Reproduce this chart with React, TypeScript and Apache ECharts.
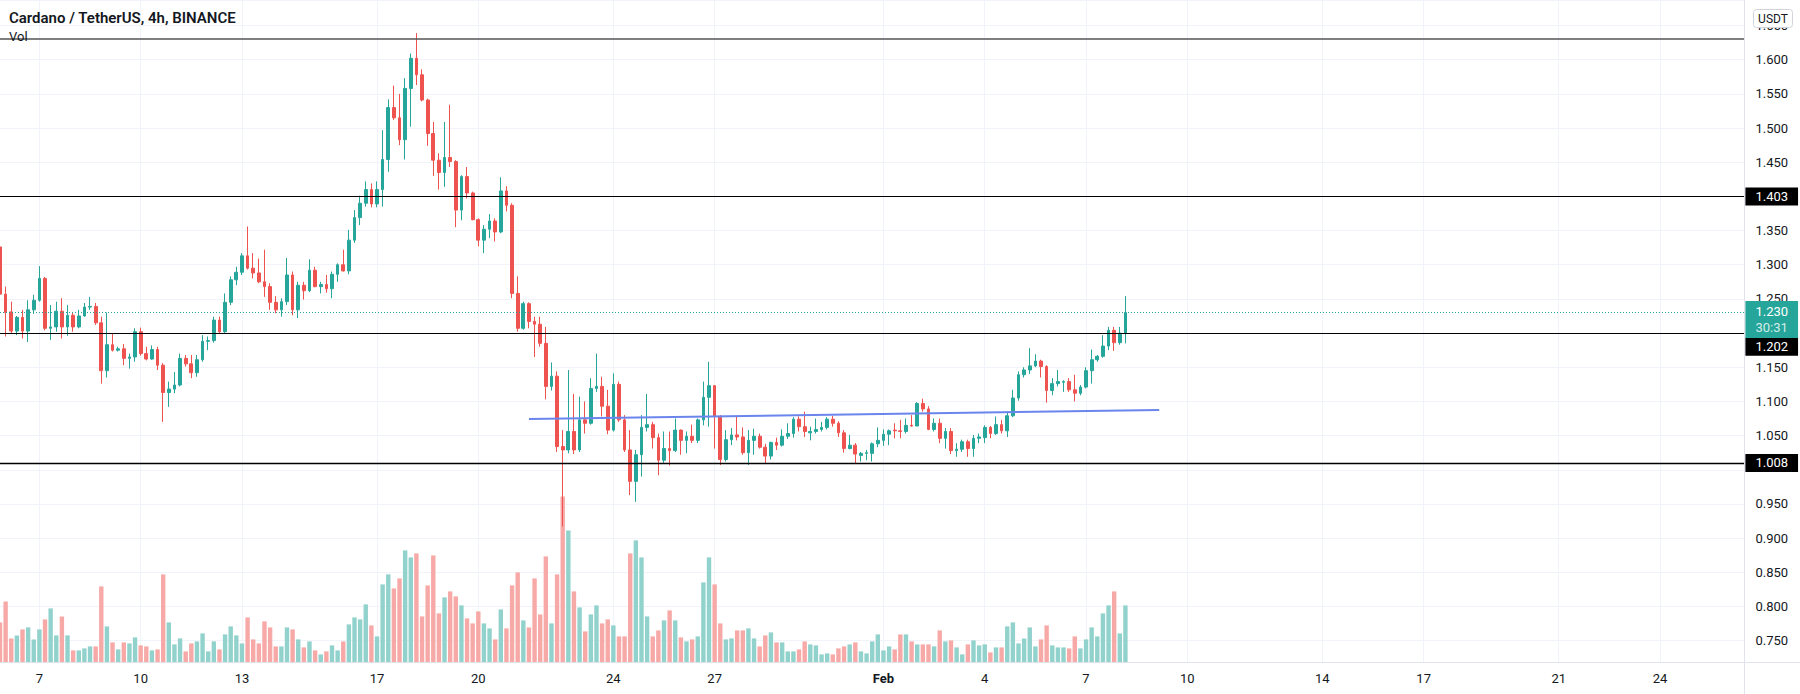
import React, { useEffect, useRef } from 'react';
import * as echarts from 'echarts';

// ---------- data ----------
const TITLE = 'Cardano / TetherUS, 4h, BINANCE';
const PANE_LABEL = 'Vol';
const CURRENCY = 'USDT';

// first 4h slot on the category axis (Jan 5 2022 20:00 UTC), number of slots incl. empty future
const START_UTC = Date.UTC(2022, 0, 5, 20);
const SLOT_COUNT = 311;
const STEP_MS = 4 * 3600 * 1000;

const TICK_DATES = [
  '2022-01-07', '2022-01-10', '2022-01-13', '2022-01-17', '2022-01-20', '2022-01-24', '2022-01-27',
  '2022-02-01', '2022-02-04', '2022-02-07', '2022-02-10', '2022-02-14', '2022-02-17', '2022-02-21', '2022-02-24',
];
const TICK_LABELS = ['7', '10', '13', '17', '20', '24', '27', 'Feb', '4', '7', '10', '14', '17', '21', '24'];

const PRICE_MIN = 0.7181;
const PRICE_MAX = 1.6874;

const LEVEL_TOP = 1.627;
const LEVELS = [1.403, 1.202, 1.008];
const LAST_PRICE = 1.23;
const COUNTDOWN = '30:31';
// label anchors of the price-scale boxes that TradingView pushes down to avoid overlap
const LAST_BOX_ANCHOR = 1.219;
const LEVEL_1202_BOX_ANCHOR = 1.18;

const TREND_START: [string, number] = ['2022-01-21 12:00', 1.0742];
const TREND_END: [string, number] = ['2022-02-09 04:00', 1.0874];

// candles [open, high, low, close], one per 4h slot from Jan 5 20:00
const CANDLES_JAN05_10: number[][] = [
  [1.326, 1.33, 1.245, 1.257],
  [1.257, 1.268, 1.195, 1.23], [1.231, 1.246, 1.2, 1.203], [1.203, 1.225, 1.197, 1.223],
  [1.223, 1.234, 1.192, 1.203], [1.203, 1.248, 1.187, 1.234], [1.234, 1.256, 1.228, 1.248],
  [1.248, 1.298, 1.246, 1.28], [1.28, 1.282, 1.204, 1.207], [1.207, 1.241, 1.19, 1.209],
  [1.209, 1.246, 1.202, 1.232], [1.232, 1.251, 1.192, 1.209], [1.209, 1.241, 1.196, 1.226],
  [1.226, 1.231, 1.202, 1.209], [1.209, 1.234, 1.207, 1.225], [1.225, 1.244, 1.224, 1.238],
  [1.238, 1.253, 1.234, 1.239], [1.239, 1.244, 1.212, 1.215], [1.215, 1.224, 1.126, 1.145],
  [1.145, 1.23, 1.135, 1.183], [1.183, 1.199, 1.173, 1.175], [1.175, 1.18, 1.173, 1.177],
  [1.177, 1.184, 1.153, 1.163], [1.163, 1.17, 1.148, 1.165], [1.165, 1.207, 1.158, 1.202],
];
const CANDLES_JAN10_14: number[][] = [
  [1.202, 1.208, 1.167, 1.17], [1.17, 1.18, 1.16, 1.162], [1.162, 1.182, 1.161, 1.176],
  [1.176, 1.18, 1.146, 1.153], [1.153, 1.156, 1.07, 1.113], [1.113, 1.129, 1.092, 1.118],
  [1.118, 1.143, 1.112, 1.124], [1.124, 1.17, 1.122, 1.163], [1.163, 1.168, 1.151, 1.155],
  [1.155, 1.168, 1.134, 1.142], [1.142, 1.168, 1.136, 1.161], [1.161, 1.197, 1.158, 1.188],
  [1.188, 1.195, 1.175, 1.189], [1.189, 1.224, 1.186, 1.219], [1.219, 1.224, 1.2, 1.202],
  [1.202, 1.258, 1.2, 1.245], [1.245, 1.283, 1.241, 1.278], [1.278, 1.297, 1.27, 1.289],
  [1.289, 1.317, 1.285, 1.313], [1.313, 1.356, 1.293, 1.295], [1.295, 1.317, 1.28, 1.288],
  [1.288, 1.309, 1.273, 1.275], [1.275, 1.322, 1.253, 1.268], [1.268, 1.273, 1.234, 1.245],
];
const CANDLES_JAN14_18: number[][] = [
  [1.245, 1.254, 1.229, 1.234], [1.234, 1.251, 1.224, 1.246], [1.246, 1.31, 1.241, 1.285],
  [1.285, 1.29, 1.226, 1.234], [1.234, 1.275, 1.222, 1.27], [1.27, 1.275, 1.249, 1.262],
  [1.262, 1.308, 1.26, 1.292], [1.292, 1.297, 1.267, 1.268], [1.268, 1.275, 1.258, 1.271],
  [1.271, 1.285, 1.259, 1.265], [1.265, 1.29, 1.251, 1.286], [1.286, 1.302, 1.275, 1.3],
  [1.3, 1.322, 1.29, 1.291], [1.291, 1.351, 1.286, 1.336], [1.336, 1.38, 1.332, 1.369],
  [1.369, 1.401, 1.358, 1.39], [1.39, 1.422, 1.385, 1.41], [1.41, 1.419, 1.384, 1.389],
  [1.389, 1.422, 1.384, 1.41], [1.41, 1.497, 1.385, 1.454], [1.454, 1.542, 1.436, 1.53],
  [1.53, 1.562, 1.512, 1.515], [1.515, 1.55, 1.475, 1.483], [1.483, 1.573, 1.454, 1.558],
];
const CANDLES_JAN18_22: number[][] = [
  [1.558, 1.609, 1.502, 1.602], [1.602, 1.639, 1.563, 1.578], [1.578, 1.586, 1.539, 1.541],
  [1.541, 1.543, 1.474, 1.492], [1.492, 1.509, 1.43, 1.453], [1.453, 1.463, 1.41, 1.435],
  [1.435, 1.509, 1.414, 1.457], [1.457, 1.534, 1.443, 1.451], [1.451, 1.453, 1.355, 1.38],
  [1.38, 1.431, 1.365, 1.429], [1.429, 1.443, 1.397, 1.405], [1.405, 1.407, 1.365, 1.366],
  [1.366, 1.368, 1.327, 1.336], [1.336, 1.358, 1.317, 1.352], [1.352, 1.374, 1.339, 1.364],
  [1.364, 1.368, 1.334, 1.348], [1.348, 1.428, 1.346, 1.408], [1.408, 1.415, 1.378, 1.387],
  [1.387, 1.39, 1.251, 1.258], [1.258, 1.283, 1.202, 1.207], [1.207, 1.246, 1.205, 1.243],
  [1.243, 1.245, 1.207, 1.217], [1.217, 1.224, 1.165, 1.213], [1.213, 1.224, 1.18, 1.185],
];
const CANDLES_JAN22_26: number[][] = [
  [1.185, 1.209, 1.103, 1.122], [1.122, 1.157, 1.116, 1.137], [1.137, 1.144, 1.026, 1.034],
  [1.034, 1.058, 0.917, 1.029], [1.029, 1.146, 1.024, 1.056], [1.056, 1.111, 1.023, 1.029],
  [1.029, 1.107, 1.026, 1.073], [1.073, 1.1, 1.053, 1.068], [1.068, 1.134, 1.066, 1.119],
  [1.119, 1.17, 1.114, 1.122], [1.122, 1.136, 1.078, 1.093], [1.093, 1.117, 1.052, 1.058],
  [1.058, 1.141, 1.056, 1.125], [1.125, 1.129, 1.07, 1.073], [1.073, 1.08, 1.026, 1.029],
  [1.029, 1.058, 0.963, 0.983], [0.983, 1.029, 0.953, 1.022], [1.022, 1.08, 0.99, 1.062],
  [1.062, 1.111, 1.056, 1.066], [1.066, 1.07, 1.031, 1.047], [1.047, 1.053, 0.992, 1.014],
  [1.014, 1.056, 1.009, 1.031], [1.031, 1.056, 1.006, 1.028], [1.028, 1.075, 1.026, 1.058],
];
const CANDLES_JAN26_30: number[][] = [
  [1.058, 1.059, 1.022, 1.043], [1.043, 1.056, 1.024, 1.049], [1.049, 1.066, 1.039, 1.043],
  [1.043, 1.075, 1.039, 1.073], [1.073, 1.129, 1.065, 1.106], [1.106, 1.158, 1.063, 1.123],
  [1.123, 1.124, 1.031, 1.078], [1.078, 1.08, 1.007, 1.015], [1.015, 1.058, 1.012, 1.044],
  [1.044, 1.061, 1.036, 1.051], [1.051, 1.078, 1.043, 1.048], [1.048, 1.062, 1.022, 1.025],
  [1.025, 1.058, 1.007, 1.043], [1.043, 1.06, 1.022, 1.049], [1.049, 1.053, 1.031, 1.033],
  [1.033, 1.038, 1.01, 1.02], [1.02, 1.041, 1.015, 1.04], [1.04, 1.047, 1.029, 1.036],
  [1.036, 1.059, 1.034, 1.049], [1.049, 1.068, 1.045, 1.053], [1.053, 1.077, 1.047, 1.074],
  [1.074, 1.078, 1.056, 1.063], [1.063, 1.085, 1.048, 1.056], [1.054, 1.063, 1.043, 1.056],
];
const CANDLES_JAN30_FEB03: number[][] = [
  [1.056, 1.075, 1.053, 1.059], [1.059, 1.07, 1.056, 1.062], [1.062, 1.077, 1.059, 1.074],
  [1.074, 1.079, 1.063, 1.068], [1.068, 1.071, 1.048, 1.054], [1.054, 1.058, 1.025, 1.031],
  [1.031, 1.051, 1.03, 1.036], [1.036, 1.039, 1.009, 1.023], [1.021, 1.026, 1.012, 1.024],
  [1.024, 1.029, 1.014, 1.025], [1.024, 1.04, 1.012, 1.038], [1.038, 1.062, 1.033, 1.043],
  [1.043, 1.059, 1.035, 1.052], [1.052, 1.059, 1.036, 1.057], [1.058, 1.068, 1.046, 1.057],
  [1.057, 1.073, 1.046, 1.056], [1.056, 1.075, 1.053, 1.065], [1.065, 1.08, 1.063, 1.064],
  [1.064, 1.099, 1.064, 1.097], [1.097, 1.104, 1.085, 1.089], [1.089, 1.093, 1.058, 1.059],
  [1.059, 1.075, 1.056, 1.068], [1.068, 1.075, 1.039, 1.046], [1.046, 1.061, 1.031, 1.056],
];
const CANDLES_FEB03_08: number[][] = [
  [1.056, 1.061, 1.023, 1.028], [1.028, 1.039, 1.019, 1.03], [1.03, 1.044, 1.026, 1.041],
  [1.041, 1.044, 1.019, 1.031], [1.031, 1.051, 1.019, 1.046], [1.046, 1.053, 1.039, 1.048],
  [1.047, 1.065, 1.039, 1.062], [1.062, 1.064, 1.046, 1.053], [1.053, 1.078, 1.051, 1.066],
  [1.066, 1.073, 1.053, 1.057], [1.057, 1.085, 1.048, 1.079], [1.079, 1.117, 1.077, 1.105],
  [1.105, 1.144, 1.101, 1.139], [1.139, 1.15, 1.135, 1.146], [1.146, 1.178, 1.14, 1.152],
  [1.152, 1.169, 1.15, 1.159], [1.159, 1.161, 1.135, 1.151], [1.151, 1.153, 1.098, 1.116],
  [1.116, 1.134, 1.109, 1.126], [1.126, 1.146, 1.122, 1.129], [1.128, 1.131, 1.114, 1.129],
  [1.129, 1.134, 1.114, 1.117], [1.117, 1.139, 1.1, 1.112], [1.112, 1.124, 1.109, 1.121],
  [1.121, 1.15, 1.119, 1.145], [1.145, 1.176, 1.126, 1.161], [1.161, 1.168, 1.158, 1.166],
  [1.166, 1.197, 1.164, 1.181], [1.181, 1.209, 1.175, 1.204], [1.204, 1.209, 1.174, 1.186],
  [1.186, 1.209, 1.183, 1.2], [1.2, 1.254, 1.185, 1.23],
];

// volume per candle (millions ADA)
const VOLUME_JAN05_10 = [40, 61, 24, 27, 33, 35, 23, 33, 43, 54, 27, 46, 27, 12, 12, 14, 16, 16, 76, 36, 20, 13, 20, 19, 25];
const VOLUME_JAN10_14 = [17, 16, 12, 13, 88, 40, 18, 24, 11, 19, 21, 29, 11, 21, 13, 28, 36, 27, 19, 45, 23, 19, 41, 35];
const VOLUME_JAN14_18 = [16, 16, 35, 33, 23, 15, 21, 12, 8, 11, 17, 12, 21, 38, 45, 43, 58, 37, 26, 78, 88, 74, 84, 112];
const VOLUME_JAN18_22 = [105, 109, 46, 77, 107, 49, 65, 71, 66, 57, 44, 39, 51, 39, 34, 23, 53, 34, 77, 90, 42, 35, 84, 48];
const VOLUME_JAN22_26 = [106, 39, 88, 166, 132, 71, 55, 31, 48, 57, 39, 43, 37, 26, 26, 109, 122, 105, 46, 26, 32, 42, 52, 42];
const VOLUME_JAN26_30 = [25, 21, 23, 26, 80, 105, 78, 39, 23, 24, 32, 32, 34, 24, 16, 27, 30, 20, 20, 11, 11, 13, 21, 18];
const VOLUME_JAN30_FEB03 = [17, 8, 9, 8, 14, 16, 18, 20, 11, 9, 21, 28, 12, 16, 13, 28, 28, 21, 18, 18, 18, 16, 32, 21];
const VOLUME_FEB03_08 = [22, 15, 8, 18, 22, 17, 18, 10, 15, 15, 36, 40, 19, 24, 35, 16, 23, 37, 17, 15, 15, 14, 26, 14, 23, 35, 26, 49, 57, 71, 29, 57];

// ---------- styling ----------
const FONT = 'Roboto, "Open Sans", "DejaVu Sans", sans-serif';
const TEXT = '#131722';
const UP = '#26a69a';
const DOWN = '#ef5350';
const VOL_UP = '#92d2cc';
const VOL_DOWN = '#f7a9a7';
const GRID_LINE = '#f0f3fa';
const BORDER = '#e0e3eb';
const INVISIBLE = 'rgba(0,0,0,0)';

const pad = (n: number) => (n < 10 ? '0' + n : '' + n);
const slotName = (t: number) => {
  const d = new Date(t);
  return `${d.getUTCFullYear()}-${pad(d.getUTCMonth() + 1)}-${pad(d.getUTCDate())} ${pad(d.getUTCHours())}:00`;
};

export default function App() {
  const ref = useRef<HTMLDivElement>(null);

  useEffect(() => {
    document.body.style.margin = '0';
    if (!ref.current) return;
    const chart = echarts.init(ref.current, undefined, { renderer: 'svg' });

    const candles = [
      ...CANDLES_JAN05_10, ...CANDLES_JAN10_14, ...CANDLES_JAN14_18, ...CANDLES_JAN18_22,
      ...CANDLES_JAN22_26, ...CANDLES_JAN26_30, ...CANDLES_JAN30_FEB03, ...CANDLES_FEB03_08,
    ];
    const volume = [
      ...VOLUME_JAN05_10, ...VOLUME_JAN10_14, ...VOLUME_JAN14_18, ...VOLUME_JAN18_22,
      ...VOLUME_JAN22_26, ...VOLUME_JAN26_30, ...VOLUME_JAN30_FEB03, ...VOLUME_FEB03_08,
    ];

    const categories: string[] = [];
    for (let k = 0; k < SLOT_COUNT; k++) categories.push(slotName(START_UTC + k * STEP_MS));
    const tickMap = new Map<string, string>();
    TICK_DATES.forEach((d, k) => tickMap.set(d + ' 00:00', TICK_LABELS[k]));

    const candleData = candles.map(([o, h, l, c]) => [o, c, l, h]);
    const volData = volume.map((v, k) => ({
      value: v,
      itemStyle: { color: candles[k] && candles[k][3] >= candles[k][0] ? VOL_UP : VOL_DOWN },
    }));

    const boxLabel = (text: string) => ({
      show: true,
      position: 'end',
      distance: 1,
      formatter: text,
      backgroundColor: '#000',
      color: '#fff',
      fontSize: 13,
      fontFamily: FONT,
      padding: [3, 10, 2, 10],
    });

    // price-scale labels that sit under a level box are hidden by the box
    const coveredByBox = (v: number) => LEVELS.some((l) => Math.abs(l - v) < 0.01);

    const option: any = {
      animation: false,
      backgroundColor: '#fff',
      textStyle: { fontFamily: FONT },
      title: [
        {
          text: TITLE, left: 9, top: 10, padding: 0,
          textStyle: { fontSize: 15, fontWeight: 600, color: TEXT, fontFamily: FONT },
        },
        {
          text: PANE_LABEL, left: 9, top: 30, padding: 0,
          textStyle: { fontSize: 13, fontWeight: 'normal', color: TEXT, fontFamily: FONT },
        },
      ],
      grid: { left: -1.5, right: 55.6, top: 0, bottom: 31.6, containLabel: false },
      xAxis: {
        type: 'category',
        data: categories,
        boundaryGap: false,
        axisLine: { show: false },
        axisTick: { show: false },
        axisLabel: {
          interval: (_i: number, v: string) => tickMap.has(v),
          formatter: (v: string) => {
            const t = tickMap.get(v) || '';
            return t === 'Feb' ? '{b|Feb}' : t;
          },
          rich: { b: { fontWeight: 'bold', fontSize: 13, color: TEXT, fontFamily: FONT } },
          color: TEXT,
          fontSize: 13,
          fontFamily: FONT,
          margin: 10,
        },
        splitLine: {
          show: true,
          interval: (_i: number, v: string) => tickMap.has(v),
          lineStyle: { color: GRID_LINE, width: 1 },
        },
      },
      yAxis: [
        {
          type: 'value',
          position: 'right',
          min: PRICE_MIN,
          max: PRICE_MAX,
          splitNumber: 20,
          axisLine: { show: false },
          axisTick: { show: false },
          axisLabel: {
            margin: 11,
            color: TEXT,
            fontSize: 13,
            fontFamily: FONT,
            formatter: (v: number) =>
              Math.abs(v / 0.05 - Math.round(v / 0.05)) < 1e-6 && !coveredByBox(v) ? v.toFixed(3) : '',
          },
          splitLine: { show: true, lineStyle: { color: GRID_LINE, width: 1 } },
        },
        { type: 'value', min: 0, max: 662.4, show: false },
      ],
      series: [
        {
          name: 'Vol',
          type: 'bar',
          xAxisIndex: 0,
          yAxisIndex: 1,
          data: volData,
          barWidth: 4.4,
          z: 1,
        },
        {
          name: 'ADAUSDT',
          type: 'candlestick',
          xAxisIndex: 0,
          yAxisIndex: 0,
          data: candleData,
          barWidth: 3.2,
          clip: false,
          z: 2,
          itemStyle: { color: UP, color0: DOWN, borderColor: UP, borderColor0: DOWN, borderWidth: 1 },
          markLine: {
            silent: true,
            symbol: ['none', 'none'],
            animation: false,
            label: { show: false },
            data: [
              { yAxis: LEVEL_TOP, lineStyle: { color: '#555', width: 1.5, type: 'solid' } },
              { yAxis: LEVELS[0], lineStyle: { color: '#000', width: 1, type: 'solid' }, label: boxLabel(LEVELS[0].toFixed(3)) },
              { yAxis: LEVELS[1], lineStyle: { color: '#000', width: 1, type: 'solid' } },
              { yAxis: LEVELS[2], lineStyle: { color: '#000', width: 1.3, type: 'solid' }, label: boxLabel(LEVELS[2].toFixed(3)) },
              { yAxis: LAST_PRICE, lineStyle: { color: UP, width: 1, type: [1, 2] } },
              { yAxis: LEVEL_1202_BOX_ANCHOR, lineStyle: { color: INVISIBLE, width: 1 }, label: boxLabel(LEVELS[1].toFixed(3)) },
              {
                yAxis: LAST_BOX_ANCHOR,
                lineStyle: { color: INVISIBLE, width: 1 },
                label: {
                  show: true,
                  position: 'end',
                  distance: 1,
                  formatter: `{a|${LAST_PRICE.toFixed(3)}}\n{c|${COUNTDOWN}}`,
                  backgroundColor: UP,
                  padding: [3, 10, 2, 10],
                  rich: {
                    a: { color: '#fff', fontSize: 13, lineHeight: 16, fontFamily: FONT },
                    c: { color: 'rgba(255,255,255,0.8)', fontSize: 13, lineHeight: 16, fontFamily: FONT },
                  },
                },
              },
              [
                { coord: TREND_START, lineStyle: { color: '#6a85ec', width: 2, type: 'solid' } },
                { coord: TREND_END },
              ],
            ],
          },
        },
      ],
      graphic: [
        { type: 'line', z: 50, shape: { x1: 0, y1: 662.5, x2: 1800, y2: 662.5 }, style: { stroke: BORDER, lineWidth: 1 } },
        { type: 'line', z: 50, shape: { x1: 1744.5, y1: 0, x2: 1744.5, y2: 694 }, style: { stroke: BORDER, lineWidth: 1 } },
        {
          type: 'rect', z: 100,
          shape: { x: 1753.5, y: 9.5, width: 39, height: 18, r: 3 },
          style: { fill: '#fff', stroke: '#d1d4dc', lineWidth: 1 },
        },
        {
          type: 'text', z: 101, x: 1773, y: 18.5,
          style: { text: CURRENCY, fontSize: 12, fontFamily: FONT, fill: TEXT, align: 'center', verticalAlign: 'middle' },
        },
      ],
    };

    chart.setOption(option);
    return () => chart.dispose();
  }, []);

  return <div ref={ref} style={{ width: 1800, height: 694 }} />;
}
